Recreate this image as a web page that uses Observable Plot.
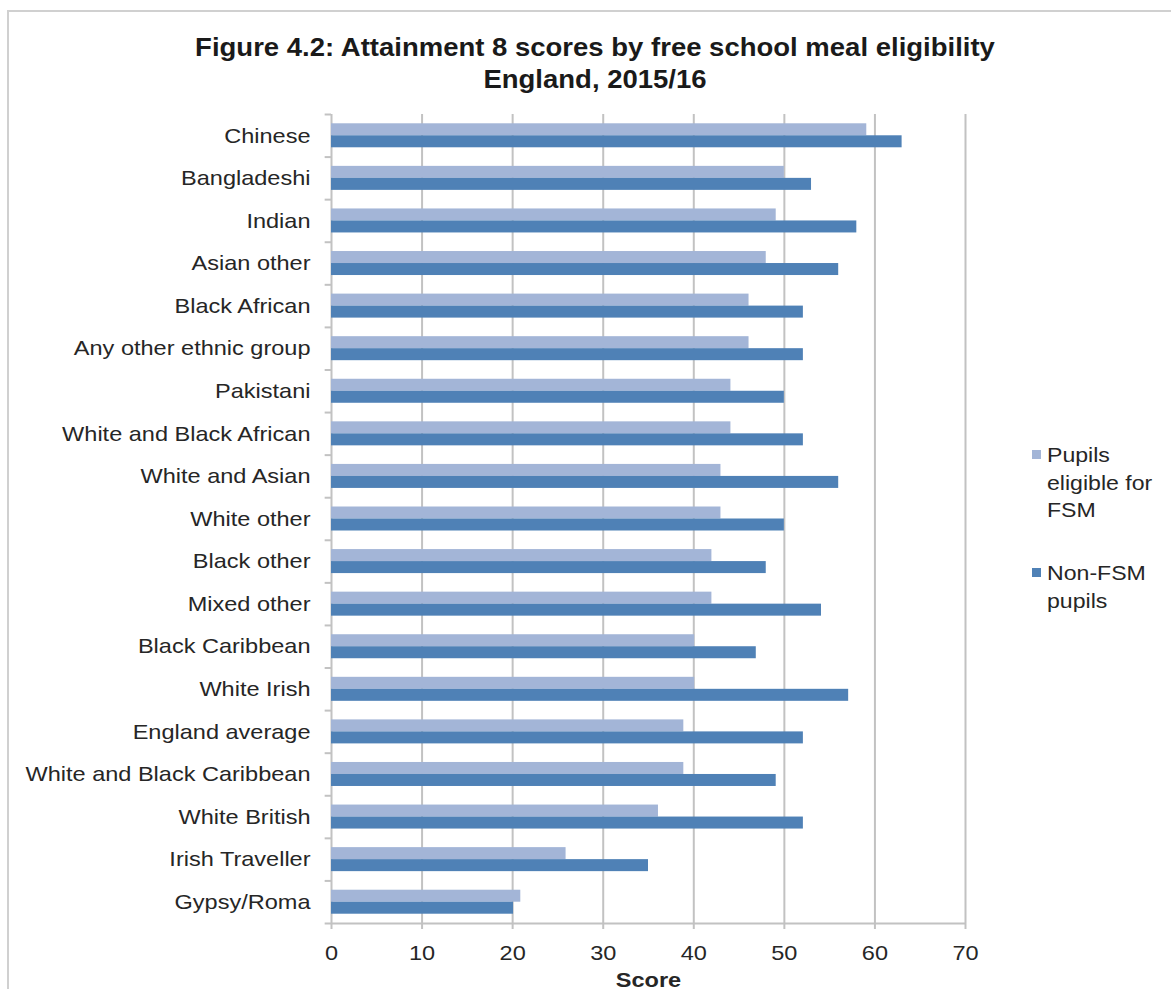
<!DOCTYPE html>
<html><head><meta charset="utf-8">
<script src="https://cdn.jsdelivr.net/npm/d3@7"></script>
<script src="https://cdn.jsdelivr.net/npm/@observablehq/plot@0.6"></script>
<style>
body{margin:0;background:#fff;font-family:"Liberation Sans",Arial,Helvetica,sans-serif;color:#262626;}
#wrap{position:relative;width:1171px;height:989px;overflow:hidden;}
#border{position:absolute;left:7px;top:10px;width:2000px;height:2000px;border-top:2px solid #d0d0d0;border-left:2px solid #d0d0d0;}
.tline{position:absolute;left:595px;font-weight:bold;font-size:25px;line-height:1;white-space:nowrap;transform:translateX(-50%) scaleX(1.1);color:#1a1a1a;}
#chart{position:absolute;left:0;top:110px;}
.leg{position:absolute;left:1032px;}
.leg .sw{position:absolute;left:0;width:9px;height:9px;}
.leg .tx{position:absolute;left:15px;top:0;font-size:21px;line-height:27.5px;white-space:nowrap;transform:scaleX(1.1);transform-origin:left center;}
</style></head>
<body>
<div id="wrap">
  <div id="border"></div>
  <div class="tline" id="t1" style="top:35px"></div>
  <div class="tline" id="t2" style="top:67px"></div>
  <div id="chart"></div>
  <div id="legend"></div>
</div>
<script>
const titleLines = ["Figure 4.2: Attainment 8 scores by free school meal eligibility", "England, 2015/16"];
const categories = ["Chinese","Bangladeshi","Indian","Asian other","Black African","Any other ethnic group","Pakistani","White and Black African","White and Asian","White other","Black other","Mixed other","Black Caribbean","White Irish","England average","White and Black Caribbean","White British","Irish Traveller","Gypsy/Roma"];
const fsmValues = [59.1, 50.0, 49.1, 48.0, 46.1, 46.1, 44.1, 44.1, 43.0, 43.0, 42.0, 42.0, 40.1, 40.1, 38.9, 38.9, 36.1, 25.9, 20.9];
const nonFsmValues = [63.0, 53.0, 58.0, 56.0, 52.1, 52.1, 50.0, 52.1, 56.0, 50.0, 48.0, 54.1, 46.9, 57.1, 52.1, 49.1, 52.1, 35.0, 20.1];
const seriesNames = ["Pupils eligible for FSM", "Non-FSM pupils"];
const seriesLegendLines = [["Pupils","eligible for","FSM"],["Non-FSM","pupils"]];
const seriesColors = ["#a3b5d7", "#4f81b6"];
const xTicks = [0,10,20,30,40,50,60,70];
const xLabel = "Score";

document.getElementById("t1").textContent = titleLines[0];
document.getElementById("t2").textContent = titleLines[1];

const fsmRows = categories.map((c,i)=>({cat:c, series:seriesNames[0], value:fsmValues[i]}));
const nonRows = categories.map((c,i)=>({cat:c, series:seriesNames[1], value:nonFsmValues[i]}));

const H = 879, MT = 4, MB = 66, ML = 331, MR = 206;
const bw = (H - MT - MB) / categories.length;
const barH = 12;
const grey = "#c2c2c2";

const chart = Plot.plot({
  width: 1171, height: H,
  marginTop: MT, marginBottom: MB, marginLeft: ML, marginRight: MR,
  style: {fontFamily: "'Liberation Sans', Arial, sans-serif", fontSize: "21px", color: "#262626", background: "transparent", overflow: "visible"},
  x: {domain: [0, 70]},
  y: {domain: categories, padding: 0, round: false},
  marks: [
    Plot.ruleX(xTicks, {stroke: grey, strokeWidth: 2}),
    Plot.barX(fsmRows, {x: "value", y: "cat", fill: seriesColors[0], insetTop: bw/2 - barH, insetBottom: bw/2}),
    Plot.barX(nonRows, {x: "value", y: "cat", fill: seriesColors[1], insetTop: bw/2, insetBottom: bw/2 - barH}),
    Plot.ruleY(categories, {y: d => d, dy: -bw/2, x1: -0.7, x2: 0, stroke: grey, strokeWidth: 2}),
    Plot.ruleY([categories[categories.length-1]], {y: d => d, dy: bw/2, x1: -0.7, x2: 70, stroke: grey, strokeWidth: 2}),
    Plot.axisX({ticks: xTicks, tickSize: 6, tickPadding: 16, stroke: grey, strokeWidth: 2, fill: "#262626", label: xLabel, labelAnchor: "center", labelArrow: false, labelOffset: 63}),
    Plot.axisY({tickSize: 0, tickPadding: 21, fill: "#262626", label: null})
  ]
});
document.getElementById("chart").appendChild(chart);

chart.querySelectorAll('g[aria-label="x-axis label"] text').forEach(t => { t.setAttribute("font-weight", "bold"); });
chart.querySelectorAll("text").forEach(t => {
  const w = t.getComputedTextLength();
  if (w > 0) { t.setAttribute("textLength", w * 1.12); t.setAttribute("lengthAdjust", "spacingAndGlyphs"); }
});

const legend = document.getElementById("legend");
const legendTops = [441, 559];
seriesLegendLines.forEach((lines, i) => {
  const item = document.createElement("div");
  item.className = "leg";
  item.style.top = legendTops[i] + "px";
  const sw = document.createElement("div");
  sw.className = "sw"; sw.style.background = seriesColors[i]; sw.style.top = "9px";
  const tx = document.createElement("div");
  tx.className = "tx"; tx.innerHTML = lines.join("<br>");
  item.appendChild(sw); item.appendChild(tx);
  legend.appendChild(item);
});
</script>
</body></html>
